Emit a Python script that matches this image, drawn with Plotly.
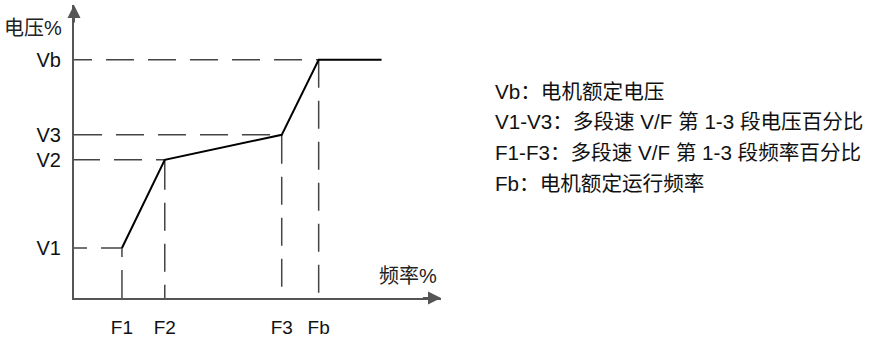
import plotly.graph_objects as go

# Data (percent-of-axis units)
freq_labels = ["F1", "F2", "F3", "Fb"]
freq_values = [19.6, 37.1, 84.9, 100.0]
volt_labels = ["V1", "V2", "V3", "Vb"]
volt_values = [21.0, 58.0, 68.5, 100.0]
flat_end = 125.7
x_max = 150.0
y_max = 123.0

legend_lines = [
    "Vb：电机额定电压",
    "V1-V3：多段速 V/F 第 1-3 段电压百分比",
    "F1-F3：多段速 V/F 第 1-3 段频率百分比",
    "Fb：电机额定运行频率",
]

W, H = 874, 339
L, R, T, B = 74, 441, 5, 298  # plot area in pixels
PW, PH = R - L, B - T


def px(x):
    return (x - L) / PW


def py(y):
    return (B - y) / PH


def dash(first, first_gap=14, dash_len=28, gap=14, n=8):
    parts = [f"{first}px", f"{first_gap}px"] + [f"{dash_len}px", f"{gap}px"] * n
    return ",".join(parts)


FONT = "Liberation Sans, Arial, Noto Sans CJK SC, sans-serif"
AXIS_COLOR = "#555555"
DASH_COLOR = "#444444"
h_first = [13, 26, 28, 18]
v_first = [9, 30, 29, 28]

fig = go.Figure()

# dashed guides
for i, (fx, vy) in enumerate(zip(freq_values, volt_values)):
    fig.add_trace(go.Scatter(x=[0, fx], y=[vy, vy], mode="lines",
                             line=dict(color=DASH_COLOR, width=1.5, dash=dash(h_first[i])),
                             hoverinfo="skip", showlegend=False))
    fig.add_trace(go.Scatter(x=[fx, fx], y=[vy, 0], mode="lines",
                             line=dict(color=DASH_COLOR, width=1.5,
                                       dash=dash(v_first[i], first_gap=13, gap=13)),
                             hoverinfo="skip", showlegend=False))

# V/F curve
fig.add_trace(go.Scatter(x=freq_values + [flat_end], y=volt_values + [volt_values[-1]],
                         mode="lines", line=dict(color="#000000", width=2),
                         hoverinfo="skip", showlegend=False))

# axis arrows
fig.add_annotation(x=x_max, y=0, ax=x_max - 8, ay=0, xref="x", yref="y",
                   axref="x", ayref="y", showarrow=True, arrowhead=2,
                   arrowsize=1.3, arrowwidth=2, arrowcolor=AXIS_COLOR, text="")
fig.add_annotation(x=0, y=y_max, ax=0, ay=y_max - 8, xref="x", yref="y",
                   axref="x", ayref="y", showarrow=True, arrowhead=2,
                   arrowsize=1.3, arrowwidth=2, arrowcolor=AXIS_COLOR, text="")

# axis titles
fig.add_annotation(x=px(64), y=py(28), xref="paper", yref="paper",
                   text="电压%", showarrow=False, xanchor="right", yanchor="middle",
                   font=dict(family=FONT, size=20, color="#222222"))
fig.add_annotation(x=px(439), y=py(276), xref="paper", yref="paper",
                   text="频率%", showarrow=False, xanchor="right", yanchor="middle",
                   font=dict(family=FONT, size=20, color="#222222"))

# legend text
for i, t in enumerate(legend_lines):
    fig.add_annotation(x=px(493), y=py(91 + 30.7 * i), xref="paper", yref="paper",
                       text=t, showarrow=False, xanchor="left", yanchor="middle",
                       font=dict(family=FONT, size=20.6, color="#111111"))

fig.update_layout(
    width=W, height=H,
    margin=dict(l=L, r=W - R, t=T, b=H - B, autoexpand=False),
    paper_bgcolor="white", plot_bgcolor="white",
    xaxis=dict(range=[0, x_max], showgrid=False, zeroline=False, automargin=False,
               showline=True, linecolor=AXIS_COLOR, linewidth=2,
               tickvals=freq_values, ticktext=freq_labels, ticks="",
               ticklabelstandoff=11,
               tickfont=dict(family=FONT, size=19, color="#111111")),
    yaxis=dict(range=[0, y_max], showgrid=False, zeroline=False, automargin=False,
               showline=True, linecolor=AXIS_COLOR, linewidth=2,
               tickvals=volt_values, ticktext=volt_labels, ticks="",
               ticklabelstandoff=7,
               tickfont=dict(family=FONT, size=20, color="#111111")),
)

fig.write_html("out.html", config={"displayModeBar": False},
               post_script="document.body.style.margin='0';document.body.style.overflow='hidden';")
